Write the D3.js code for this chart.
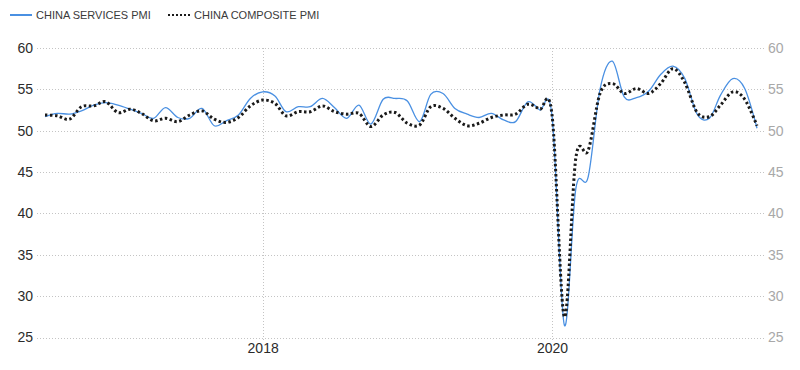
<!DOCTYPE html>
<html>
<head>
<meta charset="utf-8">
<script src="https://cdnjs.cloudflare.com/ajax/libs/d3/7.8.5/d3.min.js"></script>
<style>
  html, body { margin: 0; padding: 0; background: #fff; }
  svg { display: block; font-family: "Liberation Sans", Arial, sans-serif; }
</style>
</head>
<body>
<div id="chart"></div>
<script>
// monthly readings, Jul 2016 .. Jun 2021
const months = [
  '2016-07', '2016-08', '2016-09', '2016-10', '2016-11', '2016-12',
  '2017-01', '2017-02', '2017-03', '2017-04', '2017-05', '2017-06',
  '2017-07', '2017-08', '2017-09', '2017-10', '2017-11', '2017-12',
  '2018-01', '2018-02', '2018-03', '2018-04', '2018-05', '2018-06',
  '2018-07', '2018-08', '2018-09', '2018-10', '2018-11', '2018-12',
  '2019-01', '2019-02', '2019-03', '2019-04', '2019-05', '2019-06',
  '2019-07', '2019-08', '2019-09', '2019-10', '2019-11', '2019-12',
  '2020-01', '2020-02', '2020-03', '2020-04', '2020-05', '2020-06',
  '2020-07', '2020-08', '2020-09', '2020-10', '2020-11', '2020-12',
  '2021-01', '2021-02', '2021-03', '2021-04', '2021-05', '2021-06'
];

const servicesPmi = [
  51.7, 52.1, 52.0, 52.4, 53.1, 53.4,
  53.1, 52.6, 52.1, 51.5, 52.8, 51.6, 51.5, 52.7, 50.6, 51.2, 51.9, 53.9,
  54.7, 54.2, 52.3, 52.9, 52.9, 53.9, 52.8, 51.5, 53.1, 50.8, 53.8, 53.9,
  53.6, 51.1, 54.4, 54.5, 52.7, 52.0, 51.6, 52.1, 51.3, 51.1, 53.5, 52.5,
  51.8, 26.5, 43.0, 44.4, 55.0, 58.4, 54.1, 54.0, 54.8, 56.8, 57.8, 56.3,
  52.0, 51.5, 54.3, 56.3, 55.1, 50.3
];

const compositePmi = [
  51.9, 51.8, 51.4, 52.9, 53.0, 53.5,
  52.2, 52.6, 52.1, 51.2, 51.5, 51.1, 51.9, 52.4, 51.4, 51.0, 51.6, 53.0,
  53.7, 53.3, 51.8, 52.3, 52.3, 53.0, 52.3, 52.0, 52.1, 50.5, 51.9, 52.2,
  50.9, 50.7, 52.9, 52.7, 51.5, 50.6, 50.9, 51.6, 51.9, 52.0, 53.2, 52.6,
  51.9, 27.5, 46.7, 47.6, 54.5, 55.7, 54.5, 55.1, 54.5, 55.7, 57.5, 55.8,
  52.2, 51.7, 53.1, 54.7, 53.8, 50.6
];

const yTicks = [25, 30, 35, 40, 45, 50, 55, 60];
const xTickLabels = ['2018', '2020'];

const seriesNames = ['CHINA SERVICES PMI', 'CHINA COMPOSITE PMI'];

const width = 800;
const height = 370;
const margin = { top: 48, right: 43, bottom: 32.5, left: 45 };

const parseMonth = d3.timeParse('%Y-%m');
const dates = months.map(parseMonth);

const svg = d3.select('#chart')
  .append('svg')
  .attr('width', width)
  .attr('height', height);

const x = d3.scaleTime()
  .domain(d3.extent(dates))
  .range([margin.left, width - margin.right]);

const y = d3.scaleLinear()
  .domain([25, 60])
  .range([height - margin.bottom, margin.top]);

const gridLeft = 37;
const gridRight = 764;

// horizontal grid
svg.append('g')
  .selectAll('line')
  .data(yTicks)
  .join('line')
  .attr('x1', gridLeft)
  .attr('x2', gridRight)
  .attr('y1', d => Math.round(y(d)) + 0.5)
  .attr('y2', d => Math.round(y(d)) + 0.5)
  .attr('stroke', '#c4c4c4')
  .attr('stroke-width', 1)
  .attr('stroke-dasharray', '1,2');

// vertical grid at year ticks
const yearDates = xTickLabels.map(d => d3.timeParse('%Y')(d));
svg.append('g')
  .selectAll('line')
  .data(yearDates)
  .join('line')
  .attr('x1', d => Math.round(x(d)) + 0.5)
  .attr('x2', d => Math.round(x(d)) + 0.5)
  .attr('y1', y(60))
  .attr('y2', y(25) + 3)
  .attr('stroke', '#c4c4c4')
  .attr('stroke-width', 1)
  .attr('stroke-dasharray', '1,2');

// left axis labels
const leftAxis = d3.axisLeft(y).tickValues(yTicks).tickSize(0).tickPadding(0);
svg.append('g')
  .attr('transform', `translate(33,0)`)
  .call(leftAxis)
  .call(g => g.select('.domain').remove())
  .selectAll('text')
  .attr('font-size', 14)
  .attr('font-family', '"Liberation Sans", Arial, sans-serif')
  .attr('fill', '#2b2b2b');

// right axis labels
const rightAxis = d3.axisRight(y).tickValues(yTicks).tickSize(0).tickPadding(0);
svg.append('g')
  .attr('transform', `translate(768,0)`)
  .call(rightAxis)
  .call(g => g.select('.domain').remove())
  .selectAll('text')
  .attr('font-size', 14)
  .attr('font-family', '"Liberation Sans", Arial, sans-serif')
  .attr('fill', '#a8a8a8');

// bottom axis labels
const bottomAxis = d3.axisBottom(x)
  .tickValues(yearDates)
  .tickFormat(d3.timeFormat('%Y'))
  .tickSize(0)
  .tickPadding(0);
svg.append('g')
  .attr('transform', `translate(0,${y(25) + 6})`)
  .call(bottomAxis)
  .call(g => g.select('.domain').remove())
  .selectAll('text')
  .attr('font-size', 14)
  .attr('font-family', '"Liberation Sans", Arial, sans-serif')
  .attr('fill', '#2b2b2b');

// lines
const line = d3.line()
  .x((d, i) => x(dates[i]))
  .y(d => y(d))
  .curve(d3.curveCardinal.tension(0));

svg.append('path')
  .datum(servicesPmi)
  .attr('fill', 'none')
  .attr('stroke', '#4a90e2')
  .attr('stroke-width', 1.3)
  .attr('d', line);

svg.append('path')
  .datum(compositePmi)
  .attr('fill', 'none')
  .attr('stroke', '#1a1a1a')
  .attr('stroke-width', 3)
  .attr('stroke-dasharray', '2.5,2.5')
  .attr('d', line);

// legend
const legend = svg.append('g').attr('font-size', 11).attr('fill', '#3a3a3a');

legend.append('line')
  .attr('x1', 10).attr('x2', 32)
  .attr('y1', 15).attr('y2', 15)
  .attr('stroke', '#4a90e2')
  .attr('stroke-width', 2);

legend.append('text')
  .attr('x', 36)
  .attr('y', 19)
  .text(seriesNames[0]);

legend.append('line')
  .attr('x1', 168).attr('x2', 190)
  .attr('y1', 15).attr('y2', 15)
  .attr('stroke', '#1a1a1a')
  .attr('stroke-width', 2)
  .attr('stroke-dasharray', '2,2');

legend.append('text')
  .attr('x', 194)
  .attr('y', 19)
  .text(seriesNames[1]);
</script>
</body>
</html>
